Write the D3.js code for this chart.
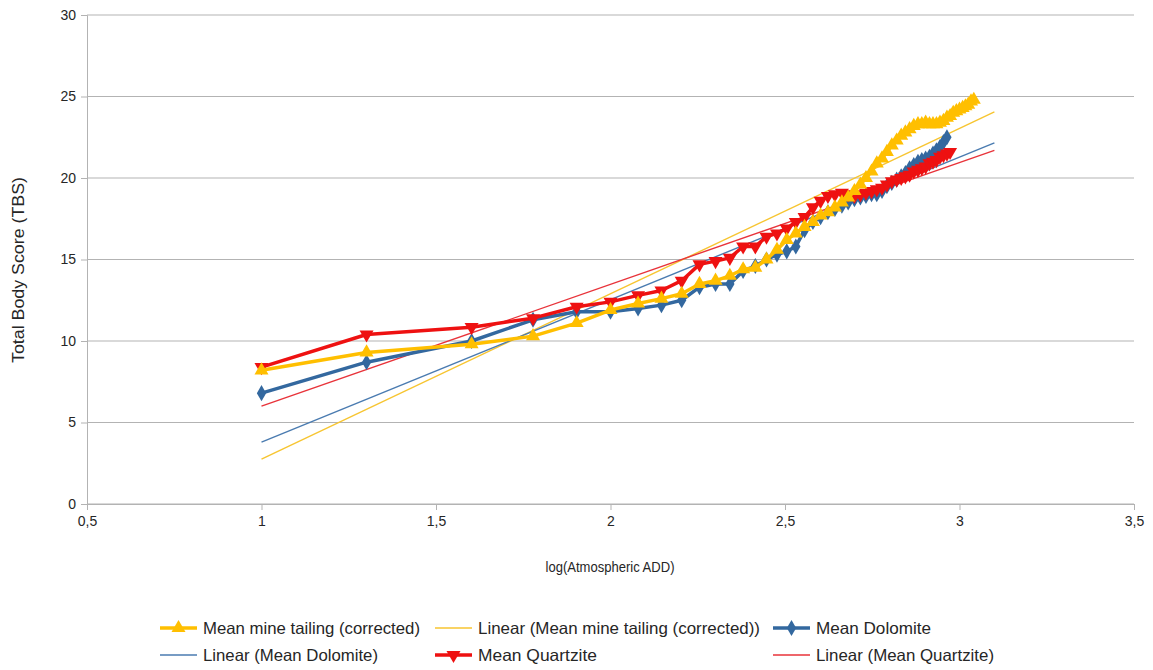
<!DOCTYPE html>
<html>
<head>
<meta charset="utf-8">
<script src="https://cdn.jsdelivr.net/npm/d3@7"></script>
<style>
  html, body { margin: 0; padding: 0; background: #ffffff; }
  svg { display: block; font-family: "Liberation Sans", Arial, sans-serif; }
</style>
</head>
<body>
<svg id="chart" width="1153" height="670"></svg>
<script>
// log10 of accumulated degree-days at each scoring interval
const logADD = [1.000, 1.301, 1.602, 1.778, 1.903, 2.000, 2.079, 2.146, 2.204, 2.255,
  2.301, 2.342, 2.380, 2.415, 2.447, 2.477, 2.505, 2.531, 2.556, 2.580,
  2.602, 2.623, 2.643, 2.663, 2.681, 2.699, 2.716, 2.732, 2.748, 2.763,
  2.778, 2.792, 2.806, 2.820, 2.833, 2.845, 2.857, 2.869, 2.881, 2.892,
  2.903, 2.914, 2.924, 2.934, 2.944, 2.954, 2.964, 2.973, 2.982, 2.991,
  3.000, 3.009, 3.017, 3.025, 3.033, 3.041];

// Mean TBS per substrate
const mineTailing = [8.2, 9.3, 9.8, 10.3, 11.1, 11.9, 12.3, 12.6, 12.9, 13.5,
  13.7, 14.0, 14.4, 14.5, 15.0, 15.6, 16.2, 16.6, 17.0, 17.3,
  17.7, 17.9, 18.2, 18.5, 18.8, 19.2, 19.6, 20.0, 20.4, 20.9,
  21.2, 21.6, 22.0, 22.3, 22.6, 22.8, 23.0, 23.2, 23.3, 23.3,
  23.4, 23.3, 23.3, 23.3, 23.4, 23.5, 23.7, 23.8, 24.0, 24.1,
  24.2, 24.3, 24.4, 24.5, 24.7, 24.8];

const dolomite = [6.8, 8.7, 10.0, 11.3, 11.8, 11.8, 12.0, 12.2, 12.5, 13.3,
  13.5, 13.5, 14.3, 14.6, 15.0, 15.3, 15.5, 15.8, 16.8, 17.3,
  17.6, 17.9, 18.1, 18.3, 18.5, 18.7, 18.8, 18.9, 19.0, 19.0,
  19.2, 19.5, 19.7, 19.9, 20.1, 20.3, 20.6, 20.8, 21.0, 21.1,
  21.2, 21.3, 21.5, 21.7, 21.9, 22.2, 22.5];

const quartzite = [8.4, 10.4, 10.85, 11.4, 12.1, 12.4, 12.8, 13.1, 13.7, 14.7,
  14.9, 15.1, 15.8, 15.8, 16.4, 16.6, 16.9, 17.3, 17.6, 18.2,
  18.6, 18.9, 19.0, 19.1, 19.0, 18.9, 19.0, 19.1, 19.2, 19.3,
  19.4, 19.6, 19.8, 19.9, 20.0, 20.1, 20.2, 20.4, 20.5, 20.6,
  20.7, 20.9, 21.0, 21.1, 21.3, 21.4, 21.5, 21.6];

// Linear trend lines: x range and fitted TBS at each end
const trendX = [1.0, 3.1];
const trendMineTailing = [2.76, 24.05];
const trendDolomite = [3.8, 22.15];
const trendQuartzite = [6.0, 21.7];

const xTicks = [0.5, 1, 1.5, 2, 2.5, 3, 3.5];
const yTicks = [0, 5, 10, 15, 20, 25, 30];

const colYellow = "#ffbf00";
const colBlue = "#33689f";
const colRed = "#ee1111";
const textCol = "#262626";

const svg = d3.select("#chart");
const x = d3.scaleLinear().domain([0.5, 3.5]).range([87, 1134]);
const y = d3.scaleLinear().domain([0, 30]).range([504, 15]);
const fmt = d => String(d).replace(".", ",");

// horizontal grid
svg.append("g").selectAll("line").data(yTicks).join("line")
  .attr("x1", 87).attr("x2", 1134)
  .attr("y1", d => y(d)).attr("y2", d => y(d))
  .attr("stroke", "#b3b3b3").attr("stroke-width", 1);

// axes
const yAxis = svg.append("g").attr("transform", "translate(87,0)")
  .call(d3.axisLeft(y).tickValues(yTicks).tickSize(6).tickPadding(5).tickFormat(d => d));
const xAxis = svg.append("g").attr("transform", "translate(0,504)")
  .call(d3.axisBottom(x).tickValues(xTicks).tickSize(6).tickPadding(6).tickFormat(fmt));
[yAxis, xAxis].forEach(a => {
  a.select(".domain").attr("stroke", "#b3b3b3");
  a.selectAll(".tick line").attr("stroke", "#b3b3b3");
  a.selectAll("text").attr("font-size", 14).attr("fill", textCol)
    .attr("font-family", "Liberation Sans, Arial, sans-serif");
});

// axis titles
svg.append("text").attr("x", 610).attr("y", 572).attr("text-anchor", "middle")
  .attr("font-size", 15).attr("fill", textCol)
  .attr("textLength", 129).attr("lengthAdjust", "spacingAndGlyphs")
  .text("log(Atmospheric ADD)");
svg.append("text").attr("transform", "translate(24,270) rotate(-90)")
  .attr("text-anchor", "middle").attr("font-size", 16).attr("fill", textCol)
  .attr("textLength", 186).attr("lengthAdjust", "spacingAndGlyphs")
  .text("Total Body Score (TBS)");

// trend lines
function trend(vals, color) {
  svg.append("line")
    .attr("x1", x(trendX[0])).attr("y1", y(vals[0]))
    .attr("x2", x(trendX[1])).attr("y2", y(vals[1]))
    .attr("stroke", color).attr("stroke-width", 1.4);
}
trend(trendMineTailing, "#f7c531");
trend(trendDolomite, "#4a7bb0");
trend(trendQuartzite, "#e8333a");

// marker shapes
function markerPath(kind) {
  if (kind === "up" || kind === "down") return d3.symbol().type(d3.symbolTriangle).size(85)();
  return d3.symbol().type(d3.symbolDiamond).size(75)();
}

function series(vals, color, kind) {
  const pts = vals.map((v, i) => [logADD[i], v]);
  const line = d3.line().x(d => x(d[0])).y(d => y(d[1]));
  const g = svg.append("g");
  g.append("path").attr("d", line(pts)).attr("fill", "none")
    .attr("stroke", color).attr("stroke-width", 3.5).attr("stroke-linejoin", "round");
  g.selectAll("path.m").data(pts).join("path").attr("class", "m")
    .attr("d", markerPath(kind))
    .attr("transform", d => `translate(${x(d[0])},${y(d[1])})` + (kind === "down" ? " rotate(180)" : ""))
    .attr("fill", color);
}

series(dolomite, colBlue, "diamond");
series(quartzite, colRed, "down");
series(mineTailing, colYellow, "up");

// legend
const legendItems = [
  { label: "Mean mine tailing (corrected)", color: colYellow, kind: "up", x: 160, y: 628, w: 217 },
  { label: "Linear (Mean mine tailing (corrected))", color: "#f7c531", kind: null, x: 435, y: 628, w: 282 },
  { label: "Mean Dolomite", color: colBlue, kind: "diamond", x: 773, y: 628, w: 115 },
  { label: "Linear (Mean Dolomite)", color: "#4a7bb0", kind: null, x: 160, y: 655, w: 175 },
  { label: "Mean Quartzite", color: colRed, kind: "down", x: 435, y: 655, w: 119 },
  { label: "Linear (Mean Quartzite)", color: "#e8333a", kind: null, x: 773, y: 655, w: 178 }
];
const lg = svg.append("g").selectAll("g").data(legendItems).join("g")
  .attr("transform", d => `translate(${d.x},${d.y})`);
lg.append("line").attr("x1", 0).attr("x2", 37).attr("y1", 0).attr("y2", 0)
  .attr("stroke", d => d.color).attr("stroke-width", d => d.kind ? 3.5 : 1.4);
lg.filter(d => d.kind).append("path")
  .attr("d", d => markerPath(d.kind))
  .attr("transform", d => "translate(18.5,0)" + (d.kind === "down" ? " rotate(180)" : ""))
  .attr("fill", d => d.color);
lg.append("text").attr("x", 43).attr("y", 0).attr("dy", "0.35em")
  .attr("font-size", 16.5).attr("fill", textCol)
  .attr("textLength", d => d.w).attr("lengthAdjust", "spacingAndGlyphs")
  .text(d => d.label);
</script>
</body>
</html>
